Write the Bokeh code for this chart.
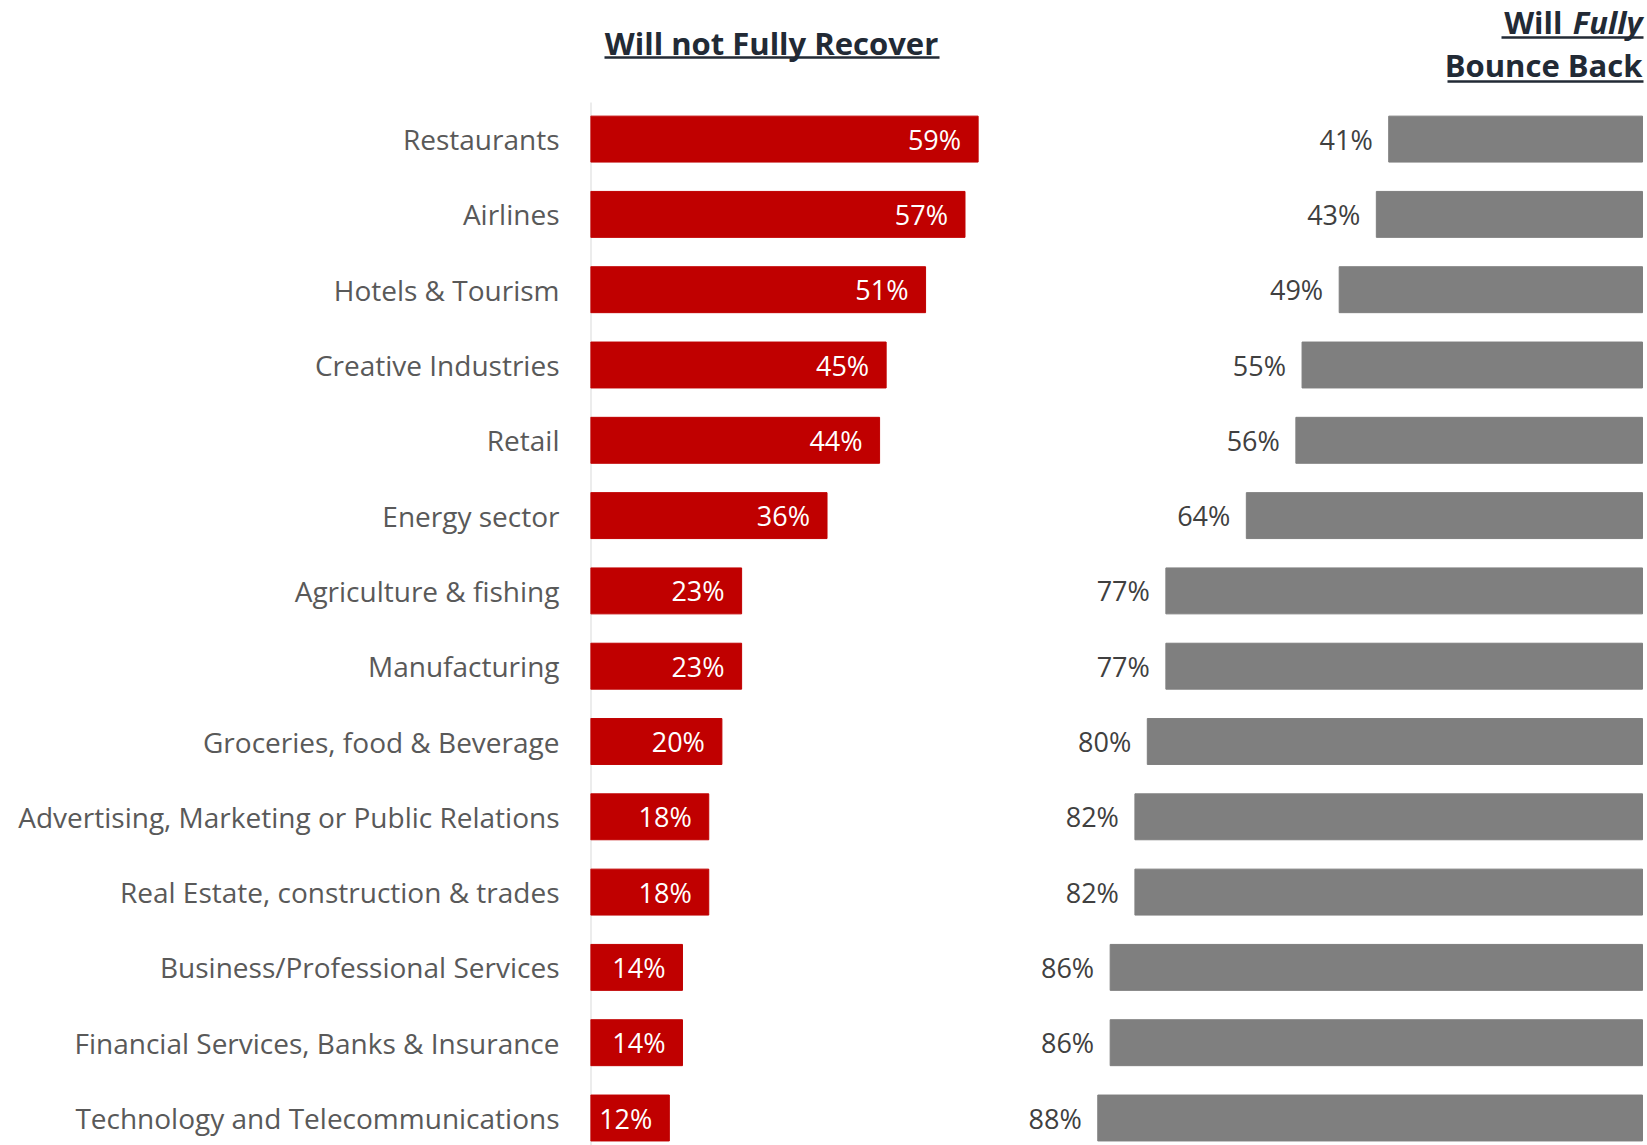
from bokeh.plotting import figure
from bokeh.layouts import row
from bokeh.models import Range1d, FixedTicker, ColumnDataSource
from bokeh.embed import file_html
from bokeh.resources import INLINE
from bokeh.core.properties import value

# ---------------- data ----------------
categories = [
    "Restaurants", "Airlines", "Hotels & Tourism", "Creative Industries", "Retail",
    "Energy sector", "Agriculture & fishing", "Manufacturing", "Groceries, food & Beverage",
    "Advertising, Marketing or Public Relations", "Real Estate, construction & trades",
    "Business/Professional Services", "Financial Services, Banks & Insurance",
    "Technology and Telecommunications",
]
will_not_fully_recover = [59, 57, 51, 45, 44, 36, 23, 23, 20, 18, 18, 14, 14, 12]
will_fully_bounce_back = [41, 43, 49, 55, 56, 64, 77, 77, 80, 82, 82, 86, 86, 88]
left_title = "Will not Fully Recover"
right_title_1a = "Will"
right_title_1b = "Fully"
right_title_2 = "Bounce Back"

# ---------------- layout constants (pixels) ----------------
H = 1145
ROW_PX = 75.3
FIRST_PX = 138.6
Y_TOP = -FIRST_PX / ROW_PX
Y_BOT = Y_TOP + H / ROW_PX


def ypix(p):
    return Y_TOP + p / ROW_PX


LEFT_W = 1000
LEFT_BORDER = 590
L_SCALE = 6.57   # px per percent
R_W = 647
R_ZERO = 642
R_SCALE = 6.19

FONT = "Open Sans"
FS = "27px"
CFS = "28px"
TFS = "31px"
LABEL_COLOR = "#595959"
TITLE_COLOR = "#222a35"

ys = list(range(len(categories)))
src_l = ColumnDataSource(dict(y=ys, v=will_not_fully_recover,
                              lbl=[f"{v}%" for v in will_not_fully_recover]))
src_r = ColumnDataSource(dict(y=ys, v=will_fully_bounce_back,
                              lbl=[f"{v}%" for v in will_fully_bounce_back]))

# ---------------- left figure ----------------
pl = figure(width=LEFT_W, height=H,
            x_range=Range1d(0, (LEFT_W - LEFT_BORDER) / L_SCALE),
            y_range=Range1d(Y_BOT, Y_TOP),
            min_border_left=LEFT_BORDER, min_border_right=0,
            min_border_top=0, min_border_bottom=0,
            output_backend="svg", toolbar_location=None)
pl.xaxis.visible = False
pl.grid.visible = False
pl.outline_line_color = None
yax = pl.yaxis[0]
yax.ticker = FixedTicker(ticks=ys)
yax.major_label_overrides = {i: c for i, c in enumerate(categories)}
yax.axis_line_color = None
yax.major_tick_line_color = None
yax.minor_tick_line_color = None
yax.major_label_standoff = 25
yax.major_label_text_font = FONT
yax.major_label_text_font_size = CFS
yax.major_label_text_color = LABEL_COLOR

pl.segment(x0=[0], y0=[ypix(102)], x1=[0], y1=[Y_BOT], line_color="#d9d9d9", line_width=2)
pl.hbar(y="y", left=0, right="v", height=0.61, color="#c00000", source=src_l)
pl.text(x="v", y="y", text="lbl", source=src_l, text_align="right", text_baseline="middle",
        x_offset=-17, y_offset=0, text_color="white", text_font=value(FONT), text_font_size=FS)

pl.text(x=[(771 - LEFT_BORDER) / L_SCALE], y=[ypix(42)], text=[left_title],
        text_align="center", text_baseline="middle", text_font=value(FONT),
        text_font_size=TFS, text_font_style="bold", text_color=TITLE_COLOR)
pl.segment(x0=[(604 - LEFT_BORDER) / L_SCALE], x1=[(939 - LEFT_BORDER) / L_SCALE],
           y0=[ypix(57)], y1=[ypix(57)], line_color=TITLE_COLOR, line_width=2.5)

# ---------------- right figure ----------------
pr = figure(width=R_W, height=H,
            x_range=Range1d(R_ZERO / R_SCALE, -(R_W - R_ZERO) / R_SCALE),
            y_range=Range1d(Y_BOT, Y_TOP),
            min_border_left=0, min_border_right=0, min_border_top=0, min_border_bottom=0,
            output_backend="svg", toolbar_location=None)
pr.xaxis.visible = False
pr.yaxis.visible = False
pr.grid.visible = False
pr.outline_line_color = None

pr.hbar(y="y", left=0, right="v", height=0.61, color="#7f7f7f", source=src_r)
pr.text(x="v", y="y", text="lbl", source=src_r, text_align="right", text_baseline="middle",
        x_offset=-16, y_offset=0, text_color="#404040", text_font=value(FONT), text_font_size=FS)

pr.text(x=[0], y=[ypix(21)], text=[right_title_1b], text_align="right", text_baseline="middle",
        text_font=value(FONT), text_font_size=TFS, text_font_style="bold italic",
        text_color=TITLE_COLOR)
pr.text(x=[0], y=[ypix(21)], text=[right_title_1a], text_align="right", text_baseline="middle",
        x_offset=-80, text_font=value(FONT), text_font_size=TFS, text_font_style="bold",
        text_color=TITLE_COLOR)
pr.text(x=[0], y=[ypix(64)], text=[right_title_2], text_align="right", text_baseline="middle",
        text_font=value(FONT), text_font_size=TFS, text_font_style="bold",
        text_color=TITLE_COLOR)
pr.segment(x0=[(R_ZERO - 501) / R_SCALE], x1=[-1 / R_SCALE], y0=[ypix(37)], y1=[ypix(37)],
           line_color=TITLE_COLOR, line_width=2.5)
pr.segment(x0=[(R_ZERO - 447) / R_SCALE], x1=[-1 / R_SCALE], y0=[ypix(81)], y1=[ypix(81)],
           line_color=TITLE_COLOR, line_width=2.5)

layout = row(pl, pr)
open("out.html", "w").write(file_html(layout, INLINE))
